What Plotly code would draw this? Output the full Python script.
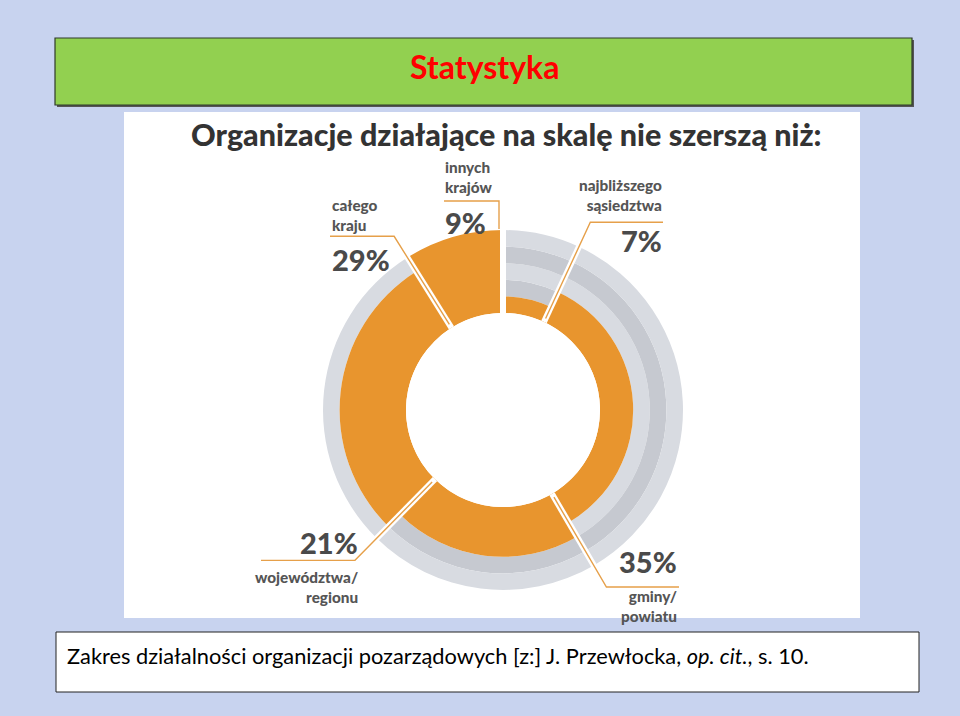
import math
import plotly.graph_objects as go

# ---------------- data ----------------
categories = ["najbliższego<br>sąsiedztwa", "gminy/<br>powiatu", "województwa/<br>regionu",
              "całego<br>kraju", "innych<br>krajów"]
shares = [7, 35, 21, 29, 9]
scale_levels = [1, 2, 3, 4, 5]
pct_labels = ["7%", "35%", "21%", "29%", "9%"]

# ---------------- geometry helpers ----------------
W, H = 960, 716
CX, CY = 503, 410          # donut centre (px)
R0 = 97                     # hole radius (px)
STEP = 16.6                 # px per scale level
RMAX = 300                  # polar domain radius (px)
RANGE_MAX = (RMAX - R0) / STEP

def px(x):
    return x / W

def py(y):
    return 1 - y / H

total = sum(shares)
starts, centers, widths = [], [], []
acc = 0
for s in shares:
    a0 = acc / total * 360
    a1 = (acc + s) / total * 360
    starts.append(a0)
    centers.append((a0 + a1) / 2)
    widths.append(a1 - a0)
    acc += s
bounds = starts[:]  # gap angles

def to_polar(dx, dy):
    r = math.hypot(dx, dy)
    th = math.degrees(math.atan2(dx, -dy)) % 360
    return (r - R0) / STEP, th

ORANGE = "#e8952e"
GREY_D = "#c6c9d0"
GREY_L = "#d8dbe1"
TXT = "#4a4a4a"

fig = go.Figure()

# grey background bands
for L in range(2, 6):
    th = [centers[i] for i in range(len(shares)) if scale_levels[i] < L]
    wd = [widths[i] for i in range(len(shares)) if scale_levels[i] < L]
    fig.add_trace(go.Barpolar(
        r=[1] * len(th), base=[L - 1] * len(th), theta=th, width=wd,
        marker=dict(color=GREY_D if L % 2 == 0 else GREY_L, line=dict(width=0)),
        hoverinfo="skip", showlegend=False))

# orange segments
fig.add_trace(go.Barpolar(
    r=scale_levels, base=[0] * len(shares), theta=centers, width=widths,
    marker=dict(color=ORANGE, line=dict(width=0)),
    hovertext=[c.replace("<br>", " ") + " " + p for c, p in zip(categories, pct_labels)],
    hoverinfo="text", showlegend=False))

# white gaps
gr, gt = [], []
for b in bounds:
    gr += [-0.5, 5.05, None]
    gt += [b, b, None]
fig.add_trace(go.Scatterpolar(r=gr, theta=gt, mode="lines",
                              line=dict(color="white", width=6),
                              hoverinfo="skip", showlegend=False, cliponaxis=False))

# leader lines (pixel offsets from centre, computed from segment bounds)
def along(angle, rpx):
    a = math.radians(angle)
    return rpx * math.sin(a), -rpx * math.cos(a)

leaders = []
# 7%
c = along(bounds[1], 207); leaders.append([along(bounds[1], 101), c, (663 - CX, c[1])])
# 35%
c = along(bounds[2], 205); leaders.append([along(bounds[2], 101), c, (679 - CX, c[1])])
# 21%
c = along(bounds[3], 211); leaders.append([along(bounds[3], 101), c, (261 - CX, c[1])])
# 29%
c = along(bounds[4], 205); leaders.append([along(bounds[4], 101), c, (330 - CX, c[1])])
# 9%
leaders.append([(-4, -181), (-4, -209), (444 - CX, -209)])

lr, lt = [], []
for pts in leaders:
    for dx, dy in pts:
        r, t = to_polar(dx, dy)
        lr.append(r); lt.append(t)
    lr.append(None); lt.append(None)
fig.add_trace(go.Scatterpolar(r=lr, theta=lt, mode="lines",
                              line=dict(color="#e6a04a", width=1.4),
                              hoverinfo="skip", showlegend=False, cliponaxis=False))

fig.update_layout(
    width=W, height=H,
    margin=dict(l=0, r=0, t=0, b=0),
    paper_bgcolor="#c8d3ef",
    plot_bgcolor="rgba(0,0,0,0)",
    polar=dict(
        domain=dict(x=[px(CX - RMAX), px(CX + RMAX)], y=[py(CY + RMAX), py(CY - RMAX)]),
        hole=R0 / RMAX,
        bgcolor="rgba(0,0,0,0)",
        barmode="overlay",
        radialaxis=dict(visible=False, range=[0, RANGE_MAX]),
        angularaxis=dict(visible=False, rotation=90, direction="clockwise"),
    ),
    showlegend=False,
)

shapes = [
    # green title box shadow + box
    dict(type="rect", xref="paper", yref="paper", x0=px(57), x1=px(914), y0=py(107), y1=py(40),
         fillcolor="#555555", line=dict(width=0), layer="below"),
    dict(type="rect", xref="paper", yref="paper", x0=px(55), x1=px(912), y0=py(105), y1=py(38),
         fillcolor="#92d050", line=dict(color="#2f3a2a", width=1.2), layer="below"),
    # white image area
    dict(type="rect", xref="paper", yref="paper", x0=px(124), x1=px(860), y0=py(618), y1=py(112),
         fillcolor="white", line=dict(width=0), layer="below"),
    # caption box
    dict(type="rect", xref="paper", yref="paper", x0=px(56), x1=px(919), y0=py(692), y1=py(632),
         fillcolor="white", line=dict(color="#222222", width=1), layer="below"),
]
fig.update_layout(shapes=shapes)

ann = []
ann.append(dict(text="<b>Statystyka</b>", x=px(484), y=py(67), xref="paper", yref="paper",
                showarrow=False, font=dict(family="Lato", size=32, color="#ff0000"),
                xanchor="center", yanchor="middle"))
ann.append(dict(text="Organizacje działające na skalę nie szerszą niż:", x=px(507), y=py(134),
                xref="paper", yref="paper", showarrow=False,
                font=dict(family="Lato", size=30.5, color="#333333", weight=900),
                xanchor="center", yanchor="middle"))
ann.append(dict(text="Zakres działalności organizacji pozarządowych [z:] J. Przewłocka, <i>op. cit.</i>, s. 10.",
                x=px(65), y=py(655), xref="paper", yref="paper", showarrow=False,
                font=dict(family="Lato", size=21.8, color="#000000"), xanchor="left", yanchor="middle"))

# label placements: (x, anchor, cat_y, cat_yanchor, pct_y, pct_yanchor)
label_pos = [
    (664, "right", 216, "bottom", 221, "top"),
    (679, "right", 585, "top", 581, "bottom"),
    (360, "right", 566, "top", 562, "bottom"),
    (330, "left", 236, "bottom", 240, "top"),
    (443, "left", 198, "bottom", 203, "top"),
]
for cat, pct, (x, xa, cy, cya, pyy, pya) in zip(categories, pct_labels, label_pos):
    ann.append(dict(text=cat, x=px(x), y=py(cy), xref="paper", yref="paper",
                    showarrow=False, align=xa, xanchor=xa, yanchor=cya,
                    font=dict(family="Lato", size=15.3, color="#555555", weight=900)))
    ann.append(dict(text=pct, x=px(x), y=py(pyy), xref="paper", yref="paper",
                    showarrow=False, align=xa, xanchor=xa, yanchor=pya,
                    font=dict(family="Lato", size=29, color=TXT, weight=900)))
fig.update_layout(annotations=ann)

fig.write_html("out.html")
